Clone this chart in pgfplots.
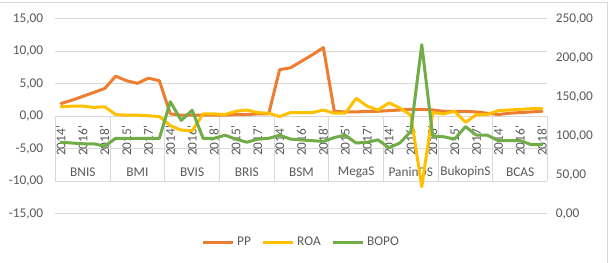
\documentclass[border=0pt]{standalone}
\usepackage{fontspec}
\setmainfont{Carlito}
\usepackage{pgfplots}
\usepackage{pgfplotstable}
\pgfplotsset{compat=1.18}

\definecolor{ppc}{HTML}{ED7D31}
\definecolor{roac}{HTML}{FFC000}
\definecolor{bopoc}{HTML}{70AD47}
\definecolor{gridc}{HTML}{D9D9D9}
\definecolor{txtc}{HTML}{595959}

% Five years (2014-2018) for each bank, banks in order:
% BNIS, BMI, BVIS, BRIS, BSM, MegaS, PaninDS, BukopinS, BCAS
\pgfplotstableread{
idx PP   ROA   BOPO
0   2.0  1.5   92
1   2.5  1.6   91
2   3.1  1.6   90
3   3.7  1.4   90
4   4.3  1.5   87
5   6.2  0.3   97
6   5.5  0.2   97
7   5.1  0.2   97
8   5.9  0.1   97
9   5.5  0.0   97
10  0.4  -1.4  144
11  0.2  -2.1  120
12  0.2  -2.2  133
13  0.2  0.4   97
14  0.2  0.4   97
15  0.2  0.3   101
16  0.3  0.8   96
17  0.3  1.0   92
18  0.4  0.6   96
19  0.4  0.5   97
20  7.2  0.0   101
21  7.5  0.6   96
22  8.5  0.6   95
23  9.5  0.6   94
24  10.6 1.0   93
25  0.8  0.5   98
26  0.7  0.5   101
27  0.7  2.8   91
28  0.8  1.6   92
29  0.8  1.0   95
30  0.9  2.1   85
31  1.0  1.3   91
32  1.1  0.2   106
33  1.1  -10.8 217
34  1.0  0.6   100
35  0.8  0.4   99
36  0.8  0.8   96
37  0.8  -0.9  112
38  0.7  0.3   101
39  0.5  0.3   101
40  0.3  0.9   94
41  0.5  1.0   94
42  0.6  1.1   94
43  0.7  1.2   89
44  0.8  1.2   89
}\datatable

\pgfplotsset{
  base/.style={
    scale only axis,
    width=369pt, height=146.25pt,
    at={(41.625pt,36.75pt)}, anchor=south west,
    xmin=-0.5, xmax=44.5,
    xtick=\empty,
    axis line style={draw=none},
    major tick length=0pt,
    tick label style={font=\fontsize{10}{12}\selectfont, text=txtc},
    /pgf/number format/fixed,
    /pgf/number format/fixed zerofill,
    /pgf/number format/precision=2,
    /pgf/number format/use comma,
    /pgf/number format/assume math mode=true,
  },
  series/.style={line width=2.25pt, line join=round, line cap=round},
}

\begin{document}
\begin{tikzpicture}
\path[use as bounding box] (0,0) rectangle (459pt,197.25pt);
\draw[gridc, line width=0.75pt] (0,195pt) -- (455.25pt,195pt) -- (455.25pt,0);

% primary axis: PP and ROA
\begin{axis}[base,
  ymin=-15, ymax=15, ytick={-15,-10,...,15},
  ymajorgrids, grid style={gridc, line width=0.75pt},
  yticklabel style={inner sep=0pt, xshift=-9pt},
  clip=false]
  % category box below the zero line
  \pgfplotsinvokeforeach{-0.5,4.5,...,44.5}{
    \draw[gridc, line width=0.75pt] (axis cs:#1,0) -- (axis cs:#1,-10);
  }
  \pgfplotsinvokeforeach{0,2,...,44}{
    \node[rotate=90, anchor=east, inner sep=0pt, text=txtc,
          font=\fontsize{10}{12}\selectfont]
      at (axis cs:#1,-1.4) {\pgfmathparse{int(2014+mod(#1,5))}\pgfmathresult\textquotesingle};
  }
  \foreach \name [count=\g from 0] in {BNIS,BMI,BVIS,BRIS,BSM,MegaS,PaninDS,BukopinS,BCAS}{
    \edef\tmp{\noexpand\node[text=txtc, font=\noexpand\fontsize{10}{12}\noexpand\selectfont]
      at (axis cs:\the\numexpr 5*\g+2\relax,-8.6) {\name};}
    \tmp
  }
  \addplot[ppc, series] table[x=idx, y=PP] {\datatable};
  \addplot[roac, series] table[x=idx, y=ROA] {\datatable};
\end{axis}

% secondary axis: BOPO
\begin{axis}[base,
  ymin=0, ymax=250, ytick={0,50,...,250},
  yticklabel pos=right,
  yticklabel style={inner sep=0pt, xshift=6pt},
  legend columns=3,
  legend style={at={(0.5,-0.144)}, anchor=center, draw=none, fill=none,
    font=\fontsize{10}{12}\selectfont, text=txtc,
    /tikz/every even column/.append style={column sep=6pt}},
  legend image code/.code={\draw[#1, line cap=butt] (0pt,0pt) -- (22.5pt,0pt);},
  ]
  \addlegendimage{ppc, series}
  \addlegendimage{roac, series}
  \addplot[bopoc, series] table[x=idx, y=BOPO] {\datatable};
  \legend{PP,ROA,BOPO}
\end{axis}
\end{tikzpicture}
\end{document}
